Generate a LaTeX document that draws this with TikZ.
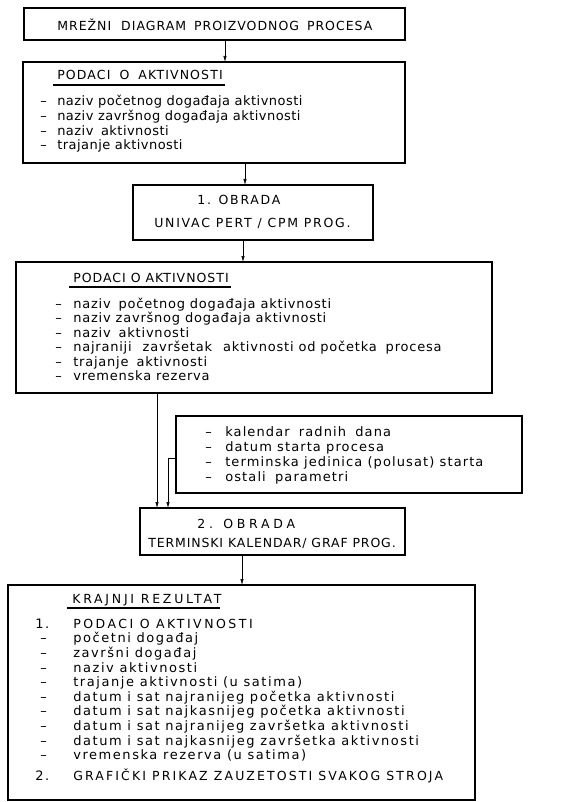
\documentclass[tikz,border=0pt]{standalone}
\usepackage{fontspec}
\setmainfont{DejaVu Sans}
\usetikzlibrary{arrows.meta, positioning}

\newcommand{\crta}[1][17pt]{\makebox[#1][l]{--}}

\begin{document}
\begin{tikzpicture}[%
    x = 1pt, y = -1pt,
    ->,
    >= {Latex[length=6pt, width=3.4pt]},
    semithick,
    okvir/.style = {%
      draw, rectangle,
      line width = 1.1pt,
      inner sep = 0pt,
      outer sep = 0pt },
    tekst/.style = {%
      inner sep = 0pt,
      anchor = base west,
      font = \fontsize{13}{14.5}\selectfont\addfontfeature{LetterSpace=#1} },
    tekst/.default = 5,
    naslov/.style = {%
      inner sep = 0pt,
      anchor = base west,
      font = \fontsize{12.5}{14.5}\selectfont\addfontfeature{LetterSpace=#1} },
    naslov/.default = 8,
    podvuci/.style = {%
      -, line width = 1.6pt }
  ]

\useasboundingbox (0,0) rectangle (561,802);

% okviri
\node[okvir, minimum width=381pt, minimum height=32pt] (mreza) at (214.5,24) {};
\node[okvir, minimum width=382pt, minimum height=101pt] (podaci1) at (214,112.5) {};
\node[okvir, minimum width=240pt, minimum height=55pt] (obrada1) at (253,212.5) {};
\node[okvir, minimum width=476pt, minimum height=131pt] (podaci2) at (254,327.5) {};
\node[okvir, minimum width=346pt, minimum height=77pt] (param) at (349,454.5) {};
\node[okvir, minimum width=265pt, minimum height=47pt] (obrada2) at (272.5,531.5) {};
\node[okvir, minimum width=467pt, minimum height=215pt] (rezultat) at (241.5,692.5) {};

% tekstovi
\node[naslov] (mrezat) at (57,30.5)
  {MREŽNI\hspace{5pt} DIAGRAM\hspace{3pt} PROIZVODNOG\hspace{3pt} PROCESA};

\node[naslov=9] (p1naslov) at (57,80) {PODACI\hspace{4pt} O\hspace{4pt} AKTIVNOSTI};
\draw[podvuci] ([shift={(-4,5)}]p1naslov.base west) -- ([shift={(2,5)}]p1naslov.base east);
\node[tekst=3.5] (p1lista) at (40,106) {\begin{tabular}[t]{@{}l@{}}
  \crta naziv početnog događaja aktivnosti\\
  \crta naziv završnog događaja aktivnosti\\
  \crta naziv\hspace{3pt} aktivnosti\\
  \crta trajanje aktivnosti
\end{tabular}};

\node[naslov=14] (o1a) at (197,205) {1. OBRADA};
\node[naslov=14] (o1b) at (154,227) {UNIVAC PERT / CPM PROG.};

\node[naslov] (p2naslov) at (73,282) {PODACI O AKTIVNOSTI};
\draw[podvuci] ([shift={(-4,5)}]p2naslov.base west) -- ([shift={(2,5)}]p2naslov.base east);
\node[tekst=6] (p2lista) at (55,308) {\begin{tabular}[t]{@{}l@{}}
  \crta[18pt]naziv\hspace{3pt} početnog događaja aktivnosti\\
  \crta[18pt]naziv završnog događaja aktivnosti\\
  \crta[18pt]naziv\hspace{3pt} aktivnosti\\
  \crta[18pt]najraniji\hspace{6pt} završetak\hspace{6pt} aktivnosti od početka\hspace{4pt} procesa\\
  \crta[18pt]trajanje\hspace{3pt} aktivnosti\\
  \crta[18pt]vremenska rezerva
\end{tabular}};

\node[tekst=8.5, font=\fontsize{13}{15}\selectfont\addfontfeature{LetterSpace=8.5}] (plista) at (205,436)
  {\begin{tabular}[t]{@{}l@{}}
  \crta[20pt]kalendar\hspace{4pt} radnih\hspace{4pt} dana\\
  \crta[20pt]datum starta procesa\\
  \crta[20pt]terminska jedinica (polusat) starta\\
  \crta[20pt]ostali\hspace{4pt} parametri
\end{tabular}};

\node[naslov=30] (o2a) at (197,528) {2. OBRADA};
\node[naslov=7] (o2b) at (148,547) {TERMINSKI KALENDAR/ GRAF PROG.};

\node[naslov=22] (rnaslov) at (72,603) {KRAJNJI REZULTAT};
\draw[podvuci] ([shift={(-5,5)}]rnaslov.base west) -- ([shift={(-2,5)}]rnaslov.base east);
\node[tekst=12] (rlista) at (35,628) {\begin{tabular}[t]{@{}p{38pt}@{}l@{}}
  1. & {\addfontfeature{LetterSpace=20}\fontsize{12.5}{14.5}\selectfont PODACI O AKTIVNOSTI}\\
  \hspace{5pt}-- & početni događaj\\
  \hspace{5pt}-- & završni događaj\\
  \hspace{5pt}-- & naziv aktivnosti\\
  \hspace{5pt}-- & trajanje aktivnosti (u satima)\\
  \hspace{5pt}-- & datum i sat najranijeg početka aktivnosti\\
  \hspace{5pt}-- & datum i sat najkasnijeg početka aktivnosti\\
  \hspace{5pt}-- & datum i sat najranijeg završetka aktivnosti\\
  \hspace{5pt}-- & datum i sat najkasnijeg završetka aktivnosti\\
  \hspace{5pt}-- & vremenska rezerva (u satima)\\[5pt]
  2. & {\addfontfeature{LetterSpace=17}\fontsize{12.5}{14.5}\selectfont GRAFIČKI PRIKAZ ZAUZETOSTI SVAKOG STROJA}
\end{tabular}};

% veze
\coordinate (v1) at ([xshift=10.5pt]mreza.south);
\draw (v1) -- (v1 |- podaci1.north);
\coordinate (v2) at ([xshift=-8pt]obrada1.north);
\draw (v2 |- podaci1.south) -- (v2);
\coordinate (v3) at ([xshift=-10pt]obrada1.south);
\draw (v3) -- (v3 |- podaci2.north);
\coordinate (v4) at ([xshift=-115.5pt]obrada2.north);
\draw (v4 |- podaci2.south) -- (v4);
\coordinate (v5) at ([xshift=-104.5pt]obrada2.north);
\draw ([yshift=-3.5pt]param.west) -| (v5);
\coordinate (v6) at ([xshift=-30.5pt]obrada2.south);
\draw (v6) -- (v6 |- rezultat.north);

\end{tikzpicture}
\end{document}
